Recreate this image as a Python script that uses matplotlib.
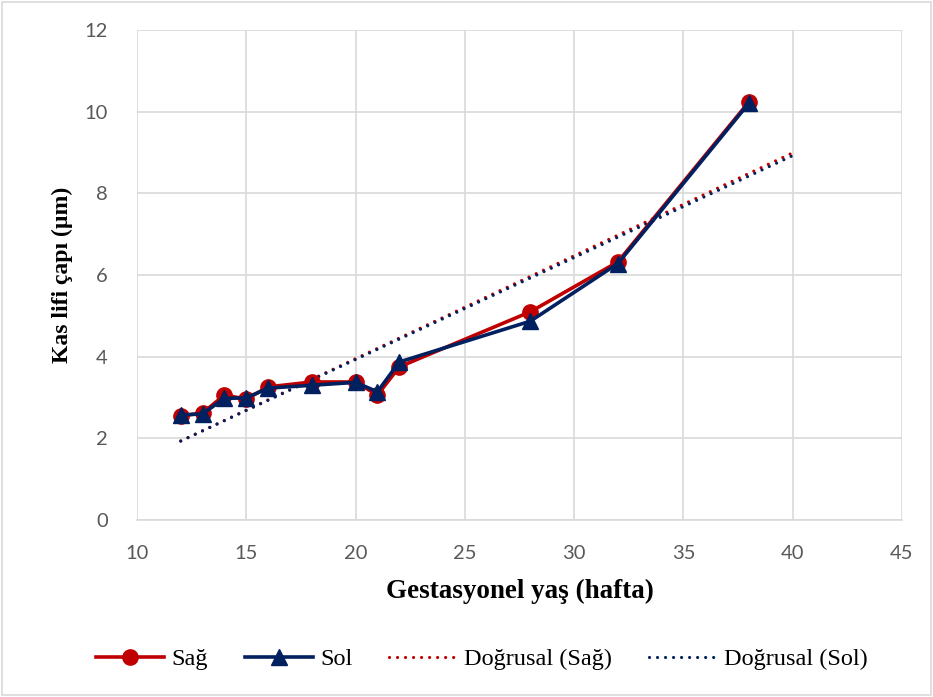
import numpy as np
import matplotlib
matplotlib.use("Agg")
import matplotlib.pyplot as plt
from matplotlib.patches import Rectangle

# Gestational age (weeks) and muscle fibre diameter (µm)
weeks = [12, 13, 14, 15, 16, 18, 20, 21, 22, 28, 32, 38]
sag = [2.55, 2.62, 3.06, 2.96, 3.26, 3.38, 3.38, 3.06, 3.75, 5.10, 6.32, 10.24]
sol = [2.57, 2.60, 2.98, 2.99, 3.23, 3.30, 3.37, 3.14, 3.87, 4.87, 6.28, 10.21]

series_names = ["Sağ", "Sol", "Doğrusal (Sağ)", "Doğrusal (Sol)"]
trend_end = 40

RED = "#C00000"
NAVY = "#002060"
GRID = "#D9D9D9"
TICK = "#595959"

fig = plt.figure(figsize=(9.33, 6.97), dpi=100)
ax = fig.add_axes([137 / 933, 1 - 520 / 697, (902 - 137) / 933, (520 - 30) / 697])

l1, = ax.plot(weeks, sag, color=RED, lw=2.6, marker="o", ms=11,
              markeredgecolor=RED, markerfacecolor=RED, zorder=3)
l2, = ax.plot(weeks, sol, color=NAVY, lw=2.6, marker="^", ms=11,
              markeredgecolor=NAVY, markerfacecolor=NAVY, zorder=4)

# Linear trend lines, extended forward to 40 weeks
dots = (0, (0.01, 2.5))
xt = np.array([weeks[0], trend_end])
a1, b1 = np.polyfit(weeks, sag, 1)
a2, b2 = np.polyfit(weeks, sol, 1)
l3, = ax.plot(xt, a1 * xt + b1, color=RED, lw=2.3, ls=dots,
              dash_capstyle="round", zorder=2)
l4, = ax.plot(xt, a2 * xt + b2, color=NAVY, lw=2.3, ls=dots,
              dash_capstyle="round", zorder=2)

ax.set_xlim(10, 45)
ax.set_ylim(0, 12)
ax.set_xticks(range(10, 46, 5))
ax.set_yticks(range(0, 13, 2))
ax.grid(True, color=GRID, lw=1.2)
ax.set_axisbelow(True)
for s in ["top", "right", "left"]:
    ax.spines[s].set_visible(False)
ax.spines["bottom"].set_color(GRID)
ax.spines["bottom"].set_linewidth(1.2)
ax.tick_params(length=0, labelsize=14.5, colors=TICK)
ax.tick_params(axis="x", pad=18)
ax.tick_params(axis="y", pad=21)
for lab in ax.get_xticklabels() + ax.get_yticklabels():
    lab.set_family("Lato")

serif = "Liberation Serif"
ax.set_xlabel("Gestasyonel yaş (hafta)", fontsize=19.5, fontweight="bold",
              family=serif, labelpad=12)
ax.set_ylabel("Kas lifi çapı (µm)", fontsize=17, fontweight="bold",
              family=serif, labelpad=8)

fig.legend([l1, l2, l3, l4], series_names, loc="center", ncol=4,
           bbox_to_anchor=(482 / 933, 1 - 659 / 697), frameon=False,
           prop={"family": serif, "size": 17.5}, handlelength=2.8,
           columnspacing=1.5, handletextpad=0.3)

fig.add_artist(Rectangle((0.002, 0.003), 0.996, 0.994, transform=fig.transFigure,
                         fill=False, edgecolor=GRID, lw=1.2))

fig.savefig("out.png", dpi=100)
